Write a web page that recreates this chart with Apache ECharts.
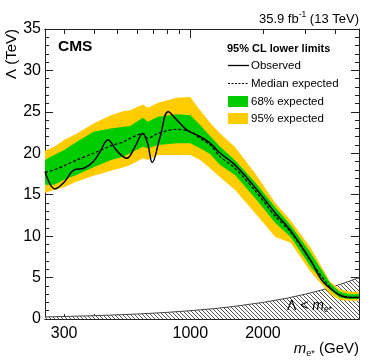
<!DOCTYPE html>
<html>
<head>
    <meta charset="utf-8">
    <script src="https://cdn.jsdelivr.net/npm/echarts@6/dist/echarts.min.js"></script>
</head>
<body style="margin:0">
    <div id="main" style="width:374px;height:363px;"></div>
</body>
<script type="text/javascript">
    // observed limit (mass in GeV, limit in TeV)
    var obsMass = [250, 275, 300, 330, 362, 397, 425, 455, 500, 545, 590, 635, 665, 695, 750, 810, 880, 970, 1100, 1210, 1330, 1530, 1850, 2250, 2600, 3150, 3500, 3800, 4150, 4550, 5000];
    var obsLimit = [17.8, 15.7, 16.5, 18.0, 18.2, 19.0, 20.3, 21.6, 20.2, 19.4, 20.8, 22.4, 21.2, 18.9, 22.0, 25.0, 24.0, 22.8, 22.0, 21.2, 20.0, 18.6, 15.9, 12.8, 10.7, 7.1, 4.7, 3.7, 2.9, 2.6, 2.6];

    // expected limit and bands
    var expMass = [250, 273, 300, 339, 397, 469, 530, 563, 636, 667, 735, 880, 1000, 1098, 1208, 1329, 1529, 1855, 2250, 2605, 3150, 3800, 4155, 4565, 5000];
    var expMedian = [17.7, 18.0, 18.5, 19.2, 20.0, 20.9, 21.4, 21.8, 22.4, 21.8, 22.4, 22.9, 22.6, 21.8, 21.0, 19.6, 18.2, 15.5, 12.4, 10.5, 7.0, 3.8, 2.9, 2.6, 2.6];
    var band68Low = [16.2, 16.2, 16.8, 17.4, 18.3, 19.2, 19.6, 20.0, 20.8, 20.6, 21.0, 21.2, 21.2, 20.6, 19.9, 18.6, 17.4, 14.6, 11.6, 9.9, 6.3, 3.5, 2.6, 2.4, 2.4];
    var band68High = [19.2, 19.8, 20.4, 21.4, 22.6, 23.0, 23.2, 23.3, 24.3, 23.8, 24.4, 24.7, 24.6, 23.4, 22.1, 20.8, 19.2, 16.5, 13.5, 11.3, 8.0, 4.3, 3.3, 3.0, 3.0];
    var band95Low = [15.2, 15.6, 15.9, 16.6, 17.3, 17.9, 18.3, 18.6, 19.4, 19.2, 19.8, 19.8, 19.8, 19.2, 18.2, 17.1, 15.6, 12.8, 9.9, 9.2, 5.7, 3.0, 2.3, 2.2, 2.2];
    var band95High = [20.3, 20.8, 21.6, 22.4, 23.6, 24.6, 25.1, 25.2, 25.9, 25.5, 26.1, 26.7, 26.8, 25.2, 23.7, 22.4, 20.8, 17.6, 14.0, 11.9, 8.6, 4.5, 3.6, 3.3, 3.3];

    // excluded region Lambda < m
    var boundMass = [250, 300, 400, 500, 600, 700, 800, 1000, 1250, 1500, 2000, 2500, 3000, 3500, 4000, 4500, 5000];
    var boundLambda = [0.25, 0.3, 0.4, 0.5, 0.6, 0.7, 0.8, 1.0, 1.25, 1.5, 2.0, 2.5, 3.0, 3.5, 4.0, 4.5, 5.0];

    var xMinorTicks = [300, 400, 500, 600, 700, 800, 900, 2000, 3000, 4000];
    var xMajorTicks = [1000];
    var xLabels = [300, 1000, 2000];

    var FONT = '"Liberation Sans", Arial, sans-serif';

    function pairs(xs, ys) {
        return xs.map(function (x, i) { return [x, ys[i]]; });
    }
    function hatch() {
        var c = document.createElement('canvas');
        c.width = 4; c.height = 4;
        var g = c.getContext('2d');
        g.fillStyle = '#fff';
        g.fillRect(0, 0, 4, 4);
        g.strokeStyle = '#555';
        g.lineWidth = 1;
        g.beginPath();
        g.moveTo(0, 0); g.lineTo(4, 4);
        g.moveTo(-1, 3); g.lineTo(1, 5);
        g.moveTo(3, -1); g.lineTo(5, 1);
        g.stroke();
        return c;
    }

    // band drawn as one polygon: low edge forward, high edge back
    function bandSeries(lo, hi, color, z) {
        return {
            type: 'custom', z: z, silent: true, animation: false,
            data: expMass.map(function (m, i) { return [m, lo[i], hi[i]]; }),
            encode: {x: 0, y: [1, 2]},
            renderItem: function (params, api) {
                if (params.dataIndex !== 0) return null;
                var pts = [];
                for (var i = 0; i < expMass.length; i++) pts.push(api.coord([expMass[i], lo[i]]));
                for (var j = expMass.length - 1; j >= 0; j--) pts.push(api.coord([expMass[j], hi[j]]));
                return {type: 'polygon', shape: {points: pts}, style: {fill: color, stroke: null}};
            }
        };
    }

    var myChart = echarts.init(document.getElementById('main'));

    function xAxisDef(pos, ticks, len, labels) {
        return {
            type: 'log', gridIndex: 0, position: pos, min: 250, max: 5000, logBase: 10,
            axisLine: {show: true, onZero: false, lineStyle: {color: '#222', width: 1}},
            axisTick: {show: true, inside: true, length: len, customValues: ticks, lineStyle: {color: '#222'}},
            axisLabel: labels ? {
                show: true, customValues: labels, margin: 7, color: '#000', fontSize: 16, fontFamily: FONT,
                formatter: function (v) { return String(Math.round(v)); }
            } : {show: false},
            splitLine: {show: false}, minorTick: {show: false}
        };
    }
    function yAxisDef(pos, labels) {
        return {
            type: 'value', position: pos, min: 0, max: 35, interval: 5,
            axisLine: {show: true, lineStyle: {color: '#222', width: 1}},
            axisTick: {show: true, inside: true, length: 8, lineStyle: {color: '#222'}},
            minorTick: {show: true, splitNumber: 5, length: 4, lineStyle: {color: '#222'}},
            axisLabel: {show: labels, margin: 4, color: '#000', fontSize: 16, fontFamily: FONT},
            splitLine: {show: false}
        };
    }

    var noSym = {showSymbol: false, symbol: 'none', animation: false, silent: true};

    myChart.setOption({
        animation: false,
        grid: {left: 45, right: 15, top: 29, bottom: 44, containLabel: false},
        xAxis: [
            xAxisDef('bottom', xMinorTicks, 5, xLabels),
            xAxisDef('top', xMinorTicks, 5, null),
            xAxisDef('bottom', xMajorTicks, 9, null),
            xAxisDef('top', xMajorTicks, 9, null)
        ],
        yAxis: [yAxisDef('left', true), yAxisDef('right', false)],
        series: [
            Object.assign({
                type: 'line', z: 1, data: pairs(boundMass, boundLambda),
                lineStyle: {color: '#444', width: 1},
                areaStyle: {color: {image: hatch(), repeat: 'repeat'}, opacity: 1}
            }, noSym),
            bandSeries(band95Low, band95High, '#ffcc00', 2),
            bandSeries(band68Low, band68High, '#00cc00', 3),
            Object.assign({
                type: 'line', z: 4, name: 'Median expected', data: pairs(expMass, expMedian), smooth: 0.3,
                lineStyle: {color: '#000', width: 1.2, type: [3, 2]}
            }, noSym),
            Object.assign({
                type: 'line', z: 5, name: 'Observed', data: pairs(obsMass, obsLimit), smooth: 0.4,
                lineStyle: {color: '#000', width: 1.5}
            }, noSym)
        ],
        graphic: [
            {type: 'text', x: 359, y: 18, z: 10, style: {
                text: '{a|35.9 fb}{s|-1}{a| (13 TeV)}', align: 'right', verticalAlign: 'middle',
                rich: {
                    a: {fontSize: 13, fontFamily: FONT, fill: '#000', lineHeight: 16, verticalAlign: 'bottom'},
                    s: {fontSize: 8.5, fontFamily: FONT, fill: '#000', lineHeight: 16, verticalAlign: 'top'}
                }
            }},
            {type: 'text', x: 12, y: 29, rotation: Math.PI / 2, z: 10, style: {
                text: 'Λ (TeV)', align: 'right', verticalAlign: 'middle', fontSize: 15, fontFamily: FONT, fill: '#000'
            }},
            {type: 'text', x: 359, y: 349, z: 10, style: {
                text: '{i|m}{sub|e*}{a| (GeV)}', align: 'right', verticalAlign: 'middle',
                rich: {
                    i: {fontSize: 15, fontStyle: 'italic', fontFamily: FONT, fill: '#000', lineHeight: 18},
                    sub: {fontSize: 9, fontFamily: FONT, fill: '#000', lineHeight: 10, verticalAlign: 'bottom'},
                    a: {fontSize: 15, fontFamily: FONT, fill: '#000', lineHeight: 18}
                }
            }},
            {type: 'text', x: 58, y: 47, z: 10, style: {
                text: 'CMS', verticalAlign: 'middle', fontSize: 15.5, fontWeight: 'bold', fontFamily: FONT, fill: '#000'
            }},
            {type: 'text', x: 287, y: 306, z: 10, style: {
                text: '{a|Λ < }{i|m}{sub|e*}', verticalAlign: 'middle',
                rich: {
                    a: {fontSize: 14, fontFamily: FONT, fill: '#000', lineHeight: 17},
                    i: {fontSize: 14, fontStyle: 'italic', fontFamily: FONT, fill: '#000', lineHeight: 17},
                    sub: {fontSize: 8.5, fontFamily: FONT, fill: '#000', lineHeight: 9, verticalAlign: 'bottom'}
                }
            }},
            // legend
            {type: 'text', x: 227, y: 49, z: 10, style: {
                text: '95% CL lower limits', verticalAlign: 'middle', fontSize: 11, fontWeight: 'bold', fontFamily: FONT, fill: '#000'
            }},
            {type: 'line', z: 10, shape: {x1: 228, y1: 65.5, x2: 249, y2: 65.5}, style: {stroke: '#000', lineWidth: 1.3}},
            {type: 'text', x: 251, y: 66, z: 10, style: {text: 'Observed', verticalAlign: 'middle', fontSize: 11.5, fontFamily: FONT, fill: '#000'}},
            {type: 'line', z: 10, shape: {x1: 228, y1: 83.5, x2: 249, y2: 83.5}, style: {stroke: '#000', lineWidth: 1.1, lineDash: [2, 1.5]}},
            {type: 'text', x: 251, y: 84, z: 10, style: {text: 'Median expected', verticalAlign: 'middle', fontSize: 11.5, fontFamily: FONT, fill: '#000'}},
            {type: 'rect', z: 10, shape: {x: 228, y: 96, width: 20, height: 11}, style: {fill: '#00cc00'}},
            {type: 'text', x: 251, y: 102, z: 10, style: {text: '68% expected', verticalAlign: 'middle', fontSize: 11.5, fontFamily: FONT, fill: '#000'}},
            {type: 'rect', z: 10, shape: {x: 228, y: 113, width: 20, height: 11}, style: {fill: '#ffcc00'}},
            {type: 'text', x: 251, y: 119, z: 10, style: {text: '95% expected', verticalAlign: 'middle', fontSize: 11.5, fontFamily: FONT, fill: '#000'}}
        ]
    });
</script>
</html>
